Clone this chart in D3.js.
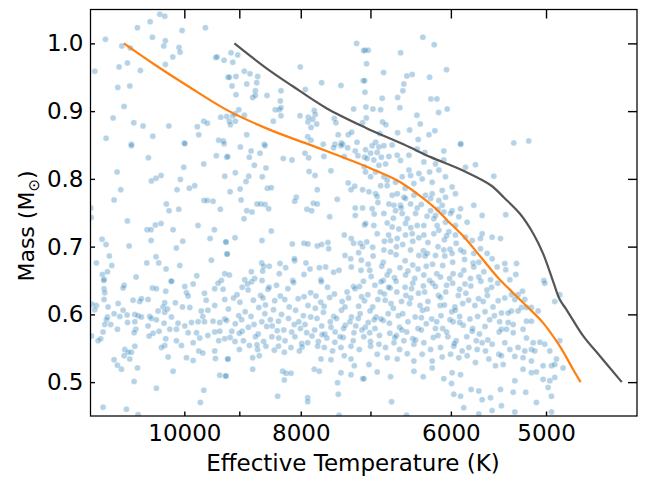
<!DOCTYPE html>
<html><head><meta charset="utf-8">
<script src="https://cdn.jsdelivr.net/npm/d3@7"></script>
<style>body{margin:0;background:#fff} text{font-family:"DejaVu Sans",sans-serif}</style>
</head><body><svg id="c" width="655" height="479"></svg>
<script>
// ---- data ----
const xMajorTicks = [10000, 8000, 6000, 5000];
const xMinorTicks = [9000, 7000];
const xTickLabels = ["10000", "8000", "6000", "5000"];
const yTicks = [0.5, 0.6, 0.7, 0.8, 0.9, 1.0];
const yTickLabels = ["0.5", "0.6", "0.7", "0.8", "0.9", "1.0"];
const xDomain = [11970, 4200];
const yDomain = [0.45, 1.05];

// orange track [Teff, Mass]
const orangeTrack = [[11229,1.000],[10582,0.9685],[9927,0.9367],[9196,0.9007],[8495,0.8727],[7818,0.8487],[7059,0.8182],[6648,0.7976],[6399,0.7780],[6197,0.7584],[6041,0.7387],[5851,0.7142],[5666,0.6847],[5489,0.6553],[5188,0.6120],[5028,0.5875],[4870,0.5530],[4747,0.5187],[4679,0.500]];
// dark grey track [Teff, Mass]
const greyTrack = [[9085,1.000],[8548,0.9636],[8123,0.9367],[7622,0.9047],[7059,0.8752],[6565,0.8506],[6236,0.8321],[5851,0.8115],[5559,0.7906],[5420,0.7725],[5256,0.7485],[5123,0.7191],[5028,0.6896],[4932,0.6484],[4870,0.6218],[4808,0.6071],[4655,0.5678],[4508,0.5383],[4324,0.500]];

// stars [Teff, Mass]
const starsUpper = [
[10482,1.043],[10382,1.040],[10678,1.032],[10941,1.023],[10043,1.019],[9604,1.023],[11632,1.006],[10631,1.009],[10370,1.004],[11273,0.996],[11089,0.993],[10402,0.996],[10102,0.994],[10082,0.987],[10224,0.980],[9416,0.979],[9392,0.980],[9267,0.975],[11872,0.959],[11332,0.965],[11153,0.971],[10879,0.960],[10370,0.969],[9196,0.950],[11360,0.935],[11101,0.937],[11224,0.907],[11463,0.890],[11017,0.883],[10823,0.878],[10302,0.878],[9754,0.877],[9635,0.885],[9569,0.882],[9326,0.891],[9219,0.892],[11618,0.860],[10623,0.863],[9727,0.865],[9362,0.857],[9280,0.856],[11068,0.851],[10000,0.853],
[9144,0.986],[9027,0.983],[9114,0.972],[9173,0.950],[9057,0.951],[8914,0.959],[8817,0.955],[8689,0.951],[9126,0.937],[8873,0.940],[8705,0.942],[8728,0.930],[9057,0.924],[8772,0.920],[8728,0.923],[8535,0.923],[8309,0.930],[8320,0.915],[8401,0.902],[8336,0.902],[8309,0.905],[8309,0.893],[9009,0.902],[9074,0.896],[9114,0.893],[8914,0.894],[9173,0.885],[9069,0.885],[9156,0.880],[8873,0.865],[8433,0.885],[8008,0.965],[7686,0.942],[7407,0.938],[7931,0.932],[8012,0.893],[7886,0.891],[7891,0.884],[7796,0.901],[7781,0.895],[7820,0.888],[7760,0.881],[7845,0.876],[7503,0.889],[7479,0.883],[7229,0.903],[7097,0.945],[7092,0.989],[7188,1.000],[7446,0.865],[7304,0.865],[7257,0.869],[7106,0.883],[7895,0.862],[7845,0.857],[7663,0.851],[7493,0.851],[7403,0.853],[7383,0.851],[7183,0.854],[8579,0.851],
[6331,1.009],[6195,0.998],[6607,0.986],[7074,0.990],[7030,0.990],[7052,0.970],[6826,0.957],[6528,0.952],[6462,0.954],[6050,0.961],[6250,0.950],[6566,0.940],[6578,0.930],[7078,0.945],[7074,0.928],[6844,0.919],[6645,0.920],[6234,0.918],[6163,0.918],[7061,0.906],[6967,0.903],[6865,0.902],[6616,0.905],[6043,0.903],[6143,0.898],[6404,0.894],[7056,0.890],[6839,0.884],[6796,0.880],[6363,0.881],[6645,0.868],[6494,0.872],[6258,0.865],[6187,0.871],[6878,0.867],[6931,0.854],[6388,0.858],[5887,0.852],
[5319,0.853],[5168,0.856]
];
const starsMiddle = [
[11068,0.849],[9991,0.852],[9267,0.852],[10713,0.831],[9405,0.834],[9219,0.832],[9635,0.822],[11376,0.810],[10011,0.817],[10652,0.797],[10557,0.801],[10456,0.805],[10076,0.799],[9255,0.804],[11295,0.784],[10140,0.784],[9904,0.786],[9803,0.790],[11441,0.769],[9629,0.768],[9569,0.768],[9465,0.767],[11963,0.757],[11956,0.743],[10351,0.763],[10297,0.753],[10107,0.755],[9333,0.755],[11153,0.738],[10740,0.725],[10658,0.725],[10571,0.732],[10456,0.734],[10218,0.725],[9741,0.731],[9441,0.725],[11707,0.711],[11618,0.703],[11116,0.701],[10658,0.709],[10154,0.698],[10030,0.708],[9519,0.712],[9237,0.707],[11545,0.686],[11836,0.676],[11492,0.672],[10746,0.676],[10557,0.685],[10503,0.676],[10357,0.667],[10088,0.672],[9495,0.680],[9219,0.689],[11701,0.659],[11662,0.652],[11588,0.663],[10969,0.655],[10252,0.649],[9765,0.657],[9315,0.650],[9255,0.660],
[8982,0.847],[8800,0.841],[8829,0.832],[8650,0.838],[8568,0.849],[8273,0.830],[8136,0.828],[7936,0.838],[7880,0.831],[9202,0.833],[8745,0.820],[8552,0.816],[9069,0.809],[8839,0.804],[8612,0.803],[8885,0.796],[7873,0.811],[7785,0.805],[7551,0.812],[7653,0.833],[7512,0.846],[7407,0.849],[7313,0.846],[7207,0.841],[7360,0.833],[7170,0.834],[7079,0.832],[7084,0.818],[8987,0.785],[9161,0.781],[8530,0.786],[8465,0.787],[7751,0.784],[8970,0.769],[8700,0.763],[8639,0.763],[8568,0.762],[8508,0.756],[8873,0.753],[8784,0.751],[8919,0.741],[8069,0.773],[8094,0.767],[7811,0.764],[7751,0.763],[7906,0.755],[7835,0.753],[7569,0.744],[7460,0.770],[7304,0.794],[7266,0.784],[7215,0.789],[7106,0.784],[7207,0.757],[7106,0.757],[7207,0.746],[7079,0.732],[9074,0.713],[8617,0.709],[8465,0.723],[9232,0.707],[8131,0.704],[7951,0.705],[7891,0.704],[7751,0.701],[7686,0.703],[7594,0.706],[7584,0.697],[7360,0.717],[7262,0.712],[7229,0.705],[7138,0.705],[7106,0.700],[7350,0.687],[7270,0.682],[7160,0.691],[7124,0.680],[9209,0.689],[8622,0.676],[8589,0.671],[8498,0.671],[8795,0.663],[8606,0.664],[8325,0.675],[8235,0.669],[8094,0.679],[8100,0.682],[7921,0.676],[7860,0.667],[7720,0.669],[7628,0.670],[7512,0.662],[7435,0.665],[7262,0.670],[7128,0.665],[8907,0.651],[8739,0.653],[8617,0.650],[8336,0.660],[7951,0.659],[7697,0.651],[8125,0.650],[9173,0.658],
[6977,0.849],[6887,0.847],[6822,0.849],[6714,0.850],[7066,0.843],[6998,0.838],[6910,0.839],[6855,0.832],[6757,0.833],[6650,0.835],[7045,0.830],[6955,0.828],[6887,0.820],[6800,0.822],[6608,0.827],[6502,0.835],[6319,0.825],[6400,0.844],[6307,0.839],[6082,0.841],[5890,0.851],[6082,0.828],[6179,0.822],[6502,0.813],[6482,0.805],[6379,0.808],[6250,0.810],[6140,0.813],[7066,0.810],[6998,0.803],[6932,0.810],[6822,0.803],[6779,0.798],[6865,0.790],[6779,0.790],[6671,0.795],[6587,0.803],[6441,0.793],[6339,0.800],[6219,0.795],[6062,0.803],[5986,0.788],[5834,0.817],[5724,0.821],[5526,0.804],[7020,0.781],[6932,0.778],[6910,0.774],[6714,0.776],[6650,0.778],[6566,0.773],[6545,0.771],[6441,0.776],[6299,0.776],[6219,0.778],[6101,0.783],[6062,0.773],[5948,0.778],[6757,0.763],[6692,0.761],[6608,0.761],[6482,0.763],[6400,0.757],[6238,0.771],[6140,0.768],[6101,0.761],[5986,0.753],[5890,0.756],[5742,0.761],[6977,0.756],[6822,0.749],[6671,0.753],[6587,0.749],[6523,0.741],[6420,0.749],[6238,0.753],[6179,0.746],[6082,0.751],[6004,0.749],[5909,0.744],[5816,0.736],[5651,0.746],[7066,0.734],[6955,0.731],[6779,0.735],[6714,0.729],[6629,0.726],[6545,0.734],[6400,0.731],[6319,0.731],[6199,0.741],[6160,0.731],[6062,0.736],[5948,0.731],[5651,0.719],[5544,0.714],[5456,0.712],[5834,0.714],[5760,0.709],[5669,0.712],[6910,0.719],[6735,0.709],[6650,0.712],[6545,0.717],[6461,0.719],[6319,0.717],[6199,0.719],[6140,0.724],[6023,0.722],[5948,0.717],
[7050,0.707],[6970,0.699],[6815,0.708],[6660,0.700],[6580,0.703],[6455,0.708],[6325,0.694],[6270,0.706],[6150,0.700],[6075,0.710],[6010,0.696],[5940,0.705],[5853,0.692],[5742,0.690],[5669,0.697],[5597,0.690],[6822,0.695],[6735,0.692],[6482,0.695],[6379,0.687],[6278,0.690],[6179,0.687],[6082,0.695],[5986,0.690],[5890,0.695],
[7030,0.674],[6965,0.686],[6830,0.677],[6665,0.688],[6550,0.679],[6455,0.673],[6305,0.686],[6215,0.674],[6070,0.686],[5980,0.677],[5845,0.681],[5750,0.676],[5687,0.677],[5544,0.682],
[7010,0.665],[6850,0.671],[6750,0.664],[6615,0.669],[6515,0.664],[6390,0.667],[6290,0.671],[6165,0.660],[6095,0.672],[5975,0.660],[5853,0.665],[5742,0.670],[5633,0.663],[5491,0.670],
[6990,0.656],[6830,0.650],[6779,0.658],[6685,0.654],[6545,0.658],[6430,0.653],[6319,0.658],[6250,0.650],[6121,0.655],[6015,0.653],[5890,0.658],[5779,0.653],[5687,0.655],[5561,0.651],
[6700,0.742],[6480,0.728],[6280,0.745],[6900,0.765],[6550,0.786],[6350,0.762],[6150,0.755],[6760,0.717],[6380,0.713],[6050,0.716],[6950,0.748],[6600,0.757],
[5401,0.747],[5411,0.675],[5291,0.675],[5401,0.666],[5298,0.659],[5359,0.651],[5021,0.650]
];
const starsLower = [
[11670,0.650],[11223,0.643],[11245,0.639],[11663,0.638],[11648,0.632],[11934,0.615],[11835,0.613],[11873,0.607],[11573,0.611],[11353,0.616],[11663,0.622],[11588,0.596],[11610,0.592],[11648,0.585],[11514,0.585],[11441,0.601],[11317,0.597],[11245,0.606],[11159,0.599],[11032,0.621],[10892,0.619],[10857,0.623],[10719,0.622],[10631,0.639],[10550,0.638],[10363,0.634],[10251,0.649],[9991,0.641],[9833,0.645],[9959,0.632],[9927,0.627],[9621,0.631],[9434,0.638],[9374,0.646],[9285,0.637],[9255,0.622],[9434,0.613],[9590,0.621],[9681,0.605],[9559,0.606],[9652,0.597],[9896,0.610],[10036,0.611],[10173,0.617],[10383,0.617],[10416,0.611],[10329,0.608],[10383,0.603],[10251,0.596],[10516,0.605],[10685,0.597],[10651,0.594],[10550,0.592],[10996,0.600],[10926,0.598],[10857,0.596],[10996,0.589],[10975,0.578],[11011,0.573],[11368,0.578],[11685,0.574],[11797,0.561],[11737,0.564],[11949,0.568],[11151,0.588],[10719,0.583],[10396,0.587],[10283,0.578],[10153,0.578],[10121,0.587],[9991,0.583],[9864,0.588],[9739,0.589],[9621,0.589],[9465,0.590],[9344,0.588],[9255,0.593],[9434,0.574],[9344,0.575],[9770,0.573],[9927,0.573],[10496,0.575],[10617,0.572],[10698,0.568],[10363,0.564],[10383,0.554],[10449,0.551],[10153,0.561],[10056,0.554],[9833,0.558],[9710,0.565],[9559,0.569],[9362,0.561],[9255,0.564],[11209,0.548],[11067,0.544],[11223,0.539],[11137,0.544],[11102,0.534],[10996,0.553],[11441,0.533],[11368,0.525],[11281,0.519],[10940,0.521],[10316,0.537],[9959,0.536],[9833,0.532],[9727,0.546],[9652,0.543],[9434,0.546],[9421,0.535],[9196,0.534],[10218,0.516],[9344,0.510],[9243,0.509],[11011,0.501],[10550,0.491],[9634,0.488],[9698,0.470],[11685,0.463],[11173,0.460],[10926,0.452],
[8860,0.645],[8790,0.648],[8380,0.643],[8110,0.647],[7690,0.648],[7230,0.641],[7095,0.649],[9040,0.629],[8850,0.636],[8640,0.628],[8520,0.637],[8320,0.627],[8200,0.638],[7850,0.632],[7770,0.627],[7600,0.640],[7500,0.630],[7320,0.633],[7210,0.638],[8990,0.618],[9100,0.624],[8760,0.621],[8560,0.614],[8410,0.620],[8180,0.611],[8040,0.623],[7890,0.613],[7700,0.618],[7570,0.625],[7390,0.619],[7300,0.624],[7160,0.612],[7120,0.626],[9190,0.608],[9010,0.598],[8900,0.604],[8670,0.610],[8570,0.601],[8430,0.607],[8300,0.600],[8080,0.606],[7960,0.598],[7780,0.609],[7660,0.603],[7510,0.597],[7400,0.606],[7260,0.596],[7140,0.601],[9220,0.591],[9070,0.586],[8960,0.592],[8750,0.585],[8620,0.589],[8480,0.592],[8350,0.590],[8190,0.594],[8030,0.589],[7935,0.585],[7755,0.594],[7685,0.583],[7560,0.589],[7470,0.594],[7345,0.584],[7280,0.589],[7165,0.594],[7070,0.581],[9130,0.575],[8950,0.575],[8845,0.581],[8680,0.571],[8540,0.582],[8370,0.576],[8265,0.577],[8140,0.574],[8005,0.579],[7910,0.573],[7790,0.577],[7640,0.571],[7490,0.574],[7370,0.579],[7225,0.573],[7115,0.577],[9160,0.566],[9075,0.560],[8930,0.561],[8725,0.567],[8590,0.560],[8455,0.567],[8345,0.565],[8245,0.561],[8090,0.567],[7985,0.557],[7830,0.568],[7735,0.560],[7610,0.565],[7495,0.559],[7375,0.566],[7235,0.561],[7090,0.567],
[8999,0.548],[8828,0.554],[8690,0.548],[8552,0.553],[8416,0.547],[8256,0.544],[8152,0.551],[8022,0.546],[7895,0.558],[7746,0.553],[7647,0.551],[7527,0.546],[7407,0.551],[7266,0.553],[7151,0.548],[9203,0.534],[8772,0.536],[8662,0.539],[7696,0.534],[7551,0.533],[7360,0.539],[7266,0.534],[7220,0.524],[8772,0.519],[8283,0.516],[8229,0.513],[8152,0.513],[7796,0.519],[7721,0.516],[7266,0.511],[7407,0.514],[8256,0.503],[7455,0.499],[7105,0.505],[9232,0.509],[8363,0.479],[7895,0.477],[7895,0.471],[7445,0.482],[7433,0.451],
[8950,0.640],[8600,0.624],[8250,0.622],[7950,0.626],[7650,0.612],[7350,0.611],[8800,0.597],[8450,0.583],[8100,0.585],[7850,0.596],[7550,0.581],[7200,0.583],[8700,0.555],[8350,0.553],[7980,0.552],[7680,0.570],[7420,0.567],[9000,0.572],[8500,0.640],[7150,0.641],
[6940,0.643],[6860,0.648],[6740,0.639],[6665,0.649],[6550,0.640],[6455,0.646],[6325,0.642],[6215,0.646],[6050,0.643],[5980,0.646],[5840,0.645],[5775,0.642],[5665,0.649],[5550,0.640],[5485,0.646],[7035,0.629],[6870,0.633],[6815,0.630],[6655,0.633],[6540,0.628],[6385,0.631],[6310,0.633],[6145,0.628],[6060,0.633],[5915,0.628],[5830,0.631],[5690,0.623],[5595,0.628],[5480,0.620],[7080,0.620],[6970,0.611],[6805,0.621],[6730,0.616],[6595,0.619],[6495,0.616],[6365,0.613],[6270,0.619],[6125,0.613],[6075,0.614],[5955,0.611],[5865,0.616],[5730,0.613],[5640,0.619],[5535,0.611],[7005,0.605],[6925,0.596],[6765,0.601],[6635,0.598],[6580,0.601],[6425,0.596],[6335,0.606],[6225,0.593],[6115,0.598],[5990,0.604],[5900,0.597],[5785,0.593],[5700,0.597],[5570,0.592],[5465,0.589],[7030,0.588],[6940,0.579],[6830,0.591],[6750,0.587],[6620,0.581],[6515,0.589],[6390,0.579],[6290,0.586],[6165,0.589],[6095,0.579],[5975,0.589],[5860,0.584],[5755,0.579],[5620,0.582],[5470,0.574],[7010,0.573],[6880,0.569],[6745,0.572],[6660,0.569],[6530,0.574],[6455,0.564],[6350,0.577],[6205,0.566],[6150,0.569],[6035,0.567],[5940,0.561],[5820,0.567],[5715,0.561],[5651,0.558],[5544,0.556],
[6998,0.553],[6887,0.556],[6800,0.551],[6692,0.558],[6566,0.561],[6441,0.556],[6319,0.558],[6238,0.548],[6121,0.551],[5967,0.553],[5872,0.546],[5797,0.551],[5705,0.548],[5615,0.546],[5473,0.541],[7020,0.526],[6910,0.541],[6779,0.536],[6650,0.534],[6523,0.542],[6441,0.531],[6219,0.531],[6339,0.541],[6101,0.537],[6004,0.541],[5909,0.536],[5816,0.539],[5724,0.529],[5579,0.534],[5508,0.524],[6910,0.515],[6735,0.508],[6441,0.516],[6327,0.508],[6219,0.521],[6082,0.505],[5986,0.514],[5890,0.511],[5967,0.482],[5890,0.479],[5853,0.462],[5772,0.489],[5687,0.487],[5651,0.474],[5561,0.477],[5456,0.489],[5993,0.498],[6722,0.471],[6532,0.451],[7088,0.505],[5544,0.458],[5687,0.453],
[6900,0.622],[6700,0.609],[6480,0.624],[6280,0.608],[6120,0.625],[5950,0.606],[5800,0.621],[5620,0.604],[6860,0.593],[6590,0.577],[6350,0.595],[6050,0.574],[5900,0.588],[5680,0.571],[7000,0.560],[6620,0.548],[6420,0.562],[6180,0.579],[5960,0.557],[5760,0.575],[6760,0.640],[6470,0.638],[6180,0.641],[5900,0.637],[5600,0.636],[6950,0.592],[6680,0.566],[6010,0.592],[5520,0.598],[5590,0.562],
[5012,0.646],[5231,0.634],[5275,0.629],[5342,0.629],[5411,0.624],[5308,0.622],[5208,0.622],[5241,0.610],[5191,0.610],[5142,0.610],[5076,0.605],[4917,0.619],[4870,0.629],[5446,0.602],[5342,0.605],[5376,0.602],[5275,0.605],[5191,0.590],[5142,0.590],[5325,0.585],[5376,0.588],[5446,0.578],[5394,0.578],[5325,0.573],[5225,0.578],[5191,0.565],[5125,0.558],[5060,0.559],[5012,0.556],[4870,0.561],[5411,0.558],[5359,0.548],[5275,0.551],[5208,0.546],[5142,0.548],[5109,0.546],[4964,0.546],[5446,0.539],[5308,0.538],[5225,0.536],[5142,0.531],[5028,0.524],[4948,0.524],[4917,0.526],[4839,0.521],[4901,0.534],[5428,0.526],[5225,0.519],[5142,0.514],[5093,0.515],[5028,0.504],[4964,0.502],[4917,0.507],[5308,0.502],[4980,0.492],[5325,0.485],[5198,0.485],[4948,0.479],[5093,0.470],[5446,0.465],[5308,0.456],[4948,0.456]
];

// ---- drawing ----
const W = 655, H = 479;
const L = 90.5, R = 637, T = 9.5, B = 416;
const svg = d3.select("#c");
const x = d3.scaleLog().domain(xDomain).range([L, R]);
const y = d3.scaleLinear().domain(yDomain).range([B, T]);

svg.append("rect").attr("width", W).attr("height", H).attr("fill", "#fff");
svg.append("defs").append("clipPath").attr("id", "clip")
  .append("rect").attr("x", L).attr("y", T).attr("width", R - L).attr("height", B - T);

const plot = svg.append("g").attr("clip-path", "url(#clip)");
const stars = starsUpper.concat(starsMiddle, starsLower);
plot.append("g").selectAll("circle").data(stars).join("circle")
  .attr("cx", d => x(d[0])).attr("cy", d => y(d[1])).attr("r", 3)
  .attr("fill", "#1f77b4").attr("fill-opacity", 0.33)
  .attr("stroke", "#ffffff").attr("stroke-opacity", 0.35).attr("stroke-width", 0.7);

const line = d3.line().x(d => x(d[0])).y(d => y(d[1])).curve(d3.curveCatmullRom.alpha(0.5));
plot.append("path").datum(greyTrack).attr("d", line).attr("fill", "none")
  .attr("stroke", "#555555").attr("stroke-width", 2.2);
plot.append("path").datum(orangeTrack).attr("d", line).attr("fill", "none")
  .attr("stroke", "#ff7f0e").attr("stroke-width", 2.2);

// axes (inward ticks)
const allX = xMajorTicks.concat(xMinorTicks);
const gx = svg.append("g").attr("transform", `translate(0,${B})`)
  .call(d3.axisBottom(x).tickValues(allX).tickSizeInner(-4.5).tickSizeOuter(0).tickPadding(9)
    .tickFormat(d => { const i = xMajorTicks.indexOf(d); return i >= 0 ? xTickLabels[i] : ""; }));
const gxt = svg.append("g").attr("transform", `translate(0,${T})`)
  .call(d3.axisTop(x).tickValues(allX).tickSizeInner(-9).tickSizeOuter(0).tickFormat(""));
const gy = svg.append("g").attr("transform", `translate(${L},0)`)
  .call(d3.axisLeft(y).tickValues(yTicks).tickSizeInner(-4.5).tickSizeOuter(0).tickPadding(7)
    .tickFormat((d, i) => yTickLabels[i]));
const gyr = svg.append("g").attr("transform", `translate(${R},0)`)
  .call(d3.axisRight(y).tickValues(yTicks).tickSizeInner(-9).tickSizeOuter(0).tickFormat(""));
[gx, gxt, gy, gyr].forEach(g => {
  g.select(".domain").remove();
  g.selectAll(".tick line").attr("stroke", "#000").attr("stroke-width", 1.4);
  g.selectAll(".tick text").attr("font-size", 23).attr("fill", "#000")
    .attr("font-family", "DejaVu Sans");
});

svg.append("rect").attr("x", L).attr("y", T).attr("width", R - L).attr("height", B - T)
  .attr("fill", "none").attr("stroke", "#000").attr("stroke-width", 1.25);

svg.append("text").attr("x", 353).attr("y", 471).attr("text-anchor", "middle")
  .attr("font-size", 23).text("Effective Temperature (K)");
const yl = svg.append("text").attr("transform", `translate(34,226) rotate(-90)`)
  .attr("text-anchor", "middle").attr("font-size", 22);
yl.append("tspan").text("Mass (M");
yl.append("tspan").attr("font-size", 15).attr("dy", 5).text("\u2299");
yl.append("tspan").attr("dy", -5).text(")");
</script></body></html>
